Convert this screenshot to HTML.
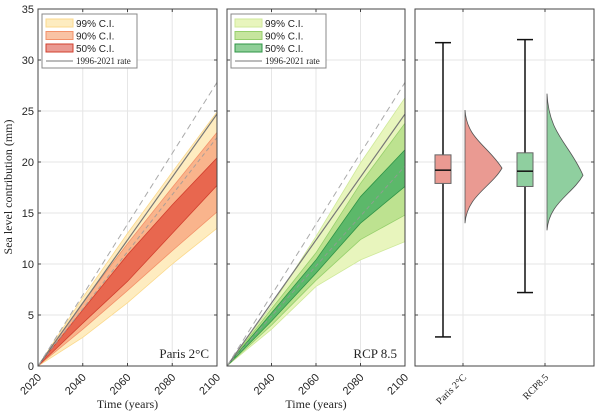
<!DOCTYPE html>
<html><head><meta charset="utf-8"><style>
body{margin:0;background:#fff;width:600px;height:415px;overflow:hidden}
svg text{font-family:"Liberation Sans",sans-serif;fill:#262626}
.serif{font-family:"Liberation Serif",serif}
</style></head><body>
<svg id="chart" width="600" height="415"></svg>
<script>
const years=[2020,2040,2060,2080,2100];
const yTicks=[0,5,10,15,20,25,30,35];
const xTicks=[2020,2040,2060,2080,2100];
const paris99u=[0,6.7,13,19,24.9], paris99l=[0,2.8,6.2,10,13.5];
const paris90u=[0,6.2,12,17.5,22.9], paris90l=[0,3.6,7.4,11.3,15.1];
const paris50u=[0,5.5,10.9,15.8,20.4], paris50l=[0,4.2,8.3,13,17.7];
const rcp99u=[0,5.9,12.7,19.9,26.3], rcp99l=[0,3.6,7.8,10.4,12.2];
const rcp90u=[0,5.6,11.1,17.9,23.8], rcp90l=[0,4.0,8.4,12.4,14.8];
const rcp50u=[0,5.2,10.4,16.6,21.2], rcp50l=[0,4.4,9.1,14,17.6];
const rateLine=[0,24.7], dashLine=[0,27.8];
const parisMedDash=[0,22.4], rcpMedDash=[0,19.6];
const boxCats=['Paris 2°C','RCP8.5'];
const whiskHi=[31.7,32.0], whiskLo=[2.85,7.2];
const boxHi=[20.7,20.9], boxLo=[17.9,17.6], medians=[19.2,19.1];
const violTop=[25.1,26.7], violBot=[14.0,13.3], violPeak=[19.4,18.7], violWidth=[37,36];

const NS='http://www.w3.org/2000/svg';
const svg=document.getElementById('chart');
function el(t,a,p){const e=document.createElementNS(NS,t);for(const k in a)e.setAttribute(k,a[k]);(p||svg).appendChild(e);return e;}
const y=v=>366-v*10.2;
const panels=[{x0:38,x1:217},{x0:227,x1:405},{x0:415,x1:594}];

let yl=el('text',{x:12,y:187,'text-anchor':'middle','font-size':12,class:'serif',transform:'rotate(-90 12 187)'});
yl.textContent='Sea level contribution (mm)';



panels.forEach((p,pi)=>{
  const g=el('g',{});
  
  
  yTicks.forEach(t=>{el('line',{x1:p.x0,x2:p.x1,y1:y(t),y2:y(t),stroke:'#e6e6e6','stroke-width':1},g);
    el('line',{x1:p.x0,x2:p.x0+3,y1:y(t),y2:y(t),stroke:'#444'},g);
    el('line',{x1:p.x1,x2:p.x1-3,y1:y(t),y2:y(t),stroke:'#444'},g);
    if(pi==0){const tx=el('text',{x:p.x0-4,y:y(t)+4,'text-anchor':'end','font-size':11},g);tx.textContent=t;
      }
  });
});
function fanPanel(pi,bands,cols,label,leg,med){
  const p=panels[pi];
  const x=v=>p.x0+(v-2020)/80*(p.x1-p.x0);
  xTicks.forEach(t=>{
    el('line',{x1:x(t),x2:x(t),y1:y(0),y2:y(35),stroke:'#e6e6e6'});
    el('line',{x1:x(t),x2:x(t),y1:y(0),y2:y(0)-3,stroke:'#444'});
    el('line',{x1:x(t),x2:x(t),y1:y(35),y2:y(35)+3,stroke:'#444'});
    if(pi==0||t>2020){const tx=el('text',{x:x(t)+4,y:378,'text-anchor':'end','font-size':11,transform:`rotate(-45 ${x(t)+4} 378)`});tx.textContent=t;
      }
  });
  bands.forEach((b,i)=>{
    let d='M'+years.map((yr,k)=>x(yr)+','+y(b[0][k])).join('L')+'L'+years.map((yr,k)=>x(yr)+','+y(b[1][k])).reverse().join('L')+'Z';
    const pa=el('path',{d,fill:cols[i][0],stroke:cols[i][1],'stroke-width':0.8});
    
    
  });
  const md=el('line',{x1:x(2020),y1:y(med[0]),x2:x(2100),y2:y(med[1]),stroke:'#999','stroke-width':1,'stroke-dasharray':'4,3','stroke-opacity':0.8});
  
  const r=el('line',{x1:x(2020),y1:y(rateLine[0]),x2:x(2100),y2:y(rateLine[1]),stroke:'#777','stroke-width':1.2});
  
  const dl=el('line',{x1:x(2020),y1:y(dashLine[0]),x2:x(2100),y2:y(dashLine[1]),stroke:'#aaa','stroke-width':1,'stroke-dasharray':'6,4'});
  
  el('rect',{x:p.x0,y:y(35),width:p.x1-p.x0,height:y(0)-y(35),fill:'none',stroke:'#444'});
  const lb=el('text',{x:p.x1-8,y:358,'text-anchor':'end','font-size':13,class:'serif'});lb.textContent=label;
  
  const xt=el('text',{x:(p.x0+p.x1)/2,y:408,'text-anchor':'middle','font-size':12,class:'serif'});xt.textContent='Time (years)';
  
  const lg=el('g',{});
  
  const lx=p.x0+4;
  el('rect',{x:lx,y:14,width:95,height:54,fill:'#fff',stroke:'#888'},lg);
  const names=['99% C.I.','90% C.I.','50% C.I.'];
  names.forEach((n,i)=>{const yy=19+i*12.5;
    el('rect',{x:lx+4,y:yy,width:27,height:8,fill:leg[i][0],stroke:leg[i][1]},lg);
    const t=el('text',{x:lx+34,y:yy+8,'font-size':10},lg);t.textContent=n;
    });
  el('line',{x1:lx+4,x2:lx+31,y1:61,y2:61,stroke:'#777'},lg);
  const t=el('text',{x:lx+34,y:64,'font-size':9,class:'serif'},lg);t.textContent='1996-2021 rate';
  
}
fanPanel(0,[[paris99u,paris99l],[paris90u,paris90l],[paris50u,paris50l]],
 [['#feecc0','#fbd98c'],['#f9b48c','#f3926a'],['#e8674f','#d2402e']],'Paris 2°C',
 [['#fdecc0','#fbd98c'],['#f9c3a4','#f3926a'],['#ea9a92','#d2402e']],parisMedDash);
fanPanel(1,[[rcp99u,rcp99l],[rcp90u,rcp90l],[rcp50u,rcp50l]],
 [['#e8f5bd','#cfe99a'],['#bde290','#96cf6c'],['#5cb86a','#2f9446']],'RCP 8.5',
 [['#e8f5bd','#cfe99a'],['#c6e59e','#96cf6c'],['#8fcf98','#2f9446']],rcpMedDash);

const p3=panels[2];
const cx=[463,545];
cx.forEach(c=>{el('line',{x1:c,x2:c,y1:y(0),y2:y(35),stroke:'#e6e6e6'});
  el('line',{x1:c,x2:c,y1:y(0),y2:y(0)-3,stroke:'#444'});el('line',{x1:c,x2:c,y1:y(35),y2:y(35)+3,stroke:'#444'});});
const bcol=[['#ea9a92','#e8857a'],['#8fcf9f','#56ad72']];
boxCats.forEach((c,i)=>{
  const bx=cx[i]-20;
  const g=el('g',{});
  
  el('line',{x1:bx,x2:bx,y1:y(whiskHi[i]),y2:y(whiskLo[i]),stroke:'#111','stroke-width':1.5},g);
  el('line',{x1:bx-8,x2:bx+8,y1:y(whiskHi[i]),y2:y(whiskHi[i]),stroke:'#111','stroke-width':1.5},g);
  el('line',{x1:bx-8,x2:bx+8,y1:y(whiskLo[i]),y2:y(whiskLo[i]),stroke:'#111','stroke-width':1.5},g);
  el('rect',{x:bx-8,y:y(boxHi[i]),width:16,height:y(boxLo[i])-y(boxHi[i]),fill:bcol[i][0],stroke:'#666'},g);
  el('line',{x1:bx-8,x2:bx+8,y1:y(medians[i]),y2:y(medians[i]),stroke:'#111','stroke-width':1.5},g);
  const vx=cx[i]+2, t=y(violTop[i]), b=y(violBot[i]), pk=y(violPeak[i]), w=violWidth[i];
  const d=`M${vx},${t} C${vx+2},${t+(pk-t)*0.5} ${vx+w*0.6},${pk-(pk-t)*0.4} ${vx+w},${pk} C${vx+w*0.7},${pk+(b-pk)*0.35} ${vx+2},${pk+(b-pk)*0.5} ${vx},${b} Z`;
  const v=el('path',{d,fill:bcol[i][0],stroke:'#555','stroke-width':0.8});
  
  const tx=el('text',{x:cx[i]+4,y:378,'text-anchor':'end','font-size':10,class:'serif',transform:`rotate(-45 ${cx[i]+4} 378)`});tx.textContent=c;
  
});
el('rect',{x:p3.x0,y:y(35),width:p3.x1-p3.x0,height:y(0)-y(35),fill:'none',stroke:'#444'});
</script>
</body></html>
